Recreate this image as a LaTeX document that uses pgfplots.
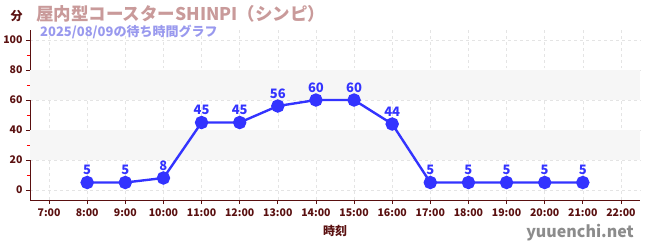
\documentclass[border=0pt]{standalone}
\usepackage{pgfplots}
\pgfplotsset{compat=1.18}
\usepackage{fontspec}
\setmainfont{Noto Sans CJK JP}
\definecolor{axc}{HTML}{5A1010}
\definecolor{linec}{HTML}{3333FF}
\definecolor{titlec}{HTML}{C99A9A}
\definecolor{subc}{HTML}{9999EE}
\definecolor{bandc}{HTML}{F6F6F6}
\definecolor{gridc}{HTML}{E4E4E4}
\begin{document}
\begin{tikzpicture}
\useasboundingbox (0,0) rectangle (650bp,250bp);
\begin{axis}[
  scale only axis, width=610bp, height=170bp,
  at={(30bp,50bp)}, anchor=south west,
  xmin=6.5, xmax=22.5, ymin=-6.67, ymax=106.7,
  axis lines*=left,
  axis line style={axc, line width=0.9pt},
  xtick={7,...,22},
  xticklabels={7:00,8:00,9:00,10:00,11:00,12:00,13:00,14:00,15:00,16:00,17:00,18:00,19:00,20:00,21:00,22:00},
  ytick={0,20,...,100},
  minor ytick={10,30,...,90},
  tick align=outside,
  major tick length=4bp, minor tick length=3bp,
  tick style={axc, line width=0.7pt},
  minor tick style={red, line width=0.7pt},
  ticklabel style={font=\fontsize{10.5bp}{11bp}\selectfont\bfseries, text=axc},
  xticklabel style={yshift=-1bp},
  /pgf/number format/assume math mode=true,
  xmajorgrids, ymajorgrids,
  major grid style={gridc, dashed, line width=0.6pt},
  xlabel={時刻},
  xlabel style={font=\fontsize{12bp}{13bp}\selectfont\bfseries, text=axc, at={(axis description cs:0.5,0)}, anchor=north, yshift=-22bp},
  clip=false,
  nodes near coords,
  every node near coord/.append style={font=\fontsize{13bp}{14bp}\selectfont\bfseries, text=linec, anchor=south, yshift=3bp},
]
\fill[bandc] (axis cs:6.5,20) rectangle (axis cs:22.5,40);
\fill[bandc] (axis cs:6.5,60) rectangle (axis cs:22.5,80);
\addplot[linec, line width=2.4pt, mark=*, mark size=5.5bp, mark options={fill=linec, draw=linec}] coordinates {
(8,5) (9,5) (10,8) (11,45) (12,45) (13,56) (14,60) (15,60) (16,44) (17,5) (18,5) (19,5) (20,5) (21,5)
};
\end{axis}
\node[anchor=west, text=axc, font=\fontsize{12bp}{13bp}\selectfont\bfseries] at (7bp,234bp) {分};
\node[anchor=west, text=titlec, font=\fontsize{17.5bp}{18bp}\selectfont\bfseries, inner sep=0pt] at (36bp,236bp) {屋内型コースターSHINPI（シンピ）};
\node[anchor=west, text=subc, font=\fontsize{13bp}{14bp}\selectfont\bfseries, inner sep=0pt] at (40bp,218bp) {2025/08/09の待ち時間グラフ};
\node[anchor=east, text=gray!90, font=\fontsize{16bp}{17bp}\selectfont\bfseries, inner sep=0pt] at (634bp,17bp) {yuuenchi.net};
\end{tikzpicture}
\end{document}
